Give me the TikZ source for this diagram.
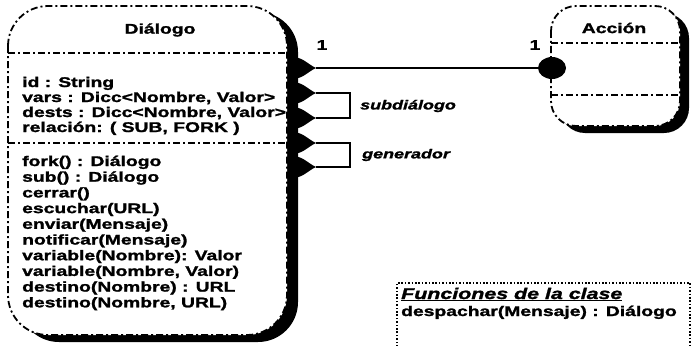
\documentclass[tikz,border=0pt]{standalone}
\usepackage{fontspec}
\newfontfamily\umlf{Liberation Sans}[FakeStretch=1.38, BoldFeatures={FakeBold=1.6}, BoldItalicFeatures={FakeBold=1.6}]
\usetikzlibrary{shapes.geometric}
\begin{document}
\begin{tikzpicture}[x=1pt,y=-1pt,
  dashdot/.style={line width=1.8pt, dash pattern=on 7pt off 3pt on 2pt off 3pt},
  txt/.style={font=\umlf\bfseries\fontsize{14}{15}\selectfont, anchor=base west, inner sep=0pt},
  ttl/.style={font=\umlf\bfseries\fontsize{14}{15}\selectfont, inner sep=0pt},
  rol/.style={font=\umlf\bfseries\itshape\fontsize{13}{14}\selectfont, anchor=west, inner sep=0pt},
  conn/.style={line width=2.4pt},
  ball/.style={ellipse, fill=black, minimum width=28pt, minimum height=22pt, inner sep=0pt},
  dotbox/.style={line width=1.6pt, dash pattern=on 1.6pt off 1.8pt}]
\useasboundingbox (0,0) rectangle (692,345);
% ---- Dialogo class box ----
\fill[black, rounded corners=40pt] (19,12) rectangle (298,342);
\fill[white, rounded corners=40pt] (8,6) rectangle (287,335);
\draw[dashdot, rounded corners=40pt] (8,6) rectangle (287,335);
\draw[dashdot] (8,53) -- (287,53);
\draw[dashdot] (8,143) -- (287,143);
\node[ttl] (tD) at (160,30) {Diálogo};
\foreach \t/\y [count=\i] in {{id : String}/87, {vars : Dicc<Nombre, Valor>}/102,
  {dests : Dicc<Nombre, Valor>}/117, {relación: ( SUB, FORK )}/132,
  {fork() : Diálogo}/166, {sub() : Diálogo}/181.7, {cerrar()}/197.4,
  {escuchar(URL)}/213.1, {enviar(Mensaje)}/228.8, {notificar(Mensaje)}/244.5,
  {variable(Nombre): Valor}/260.2, {variable(Nombre, Valor)}/275.9,
  {destino(Nombre) : URL}/291.6, {destino(Nombre, URL)}/307.3}
  \node[txt] (l\i) at (22,\y) {\t};
% ---- lobes on Dialogo ----
\foreach \y [count=\i] in {68,93,118,143,167} {
  \fill[black] (288,\y-11) .. controls (302,\y-12.5) and (307,\y-4) .. (316,\y)
     .. controls (307,\y+4) and (302,\y+12.5) .. (288,\y+11) -- cycle;
  \coordinate (t\i) at (316,\y);
}
% ---- Accion class box ----
\fill[black, rounded corners=25pt] (560,13) rectangle (689,133);
\fill[white, rounded corners=25pt] (551,6) rectangle (680,126);
\draw[dashdot, rounded corners=25pt] (551,6) rectangle (680,126);
\draw[dashdot] (551,43) -- (680,43);
\draw[dashdot] (551,95) -- (680,95);
\node[ttl] (tA) at (614,28) {Acción};
\node[ball] (ball) at (552,68) {};
% ---- connectors ----
\draw[conn] (t1) -- (ball);
\coordinate (bs) at (350,105);
\coordinate (bg) at (350,155);
\draw[conn, line width=2pt] (t2) -| (bs) |- (t3);
\draw[conn, line width=2pt] (t4) -| (bg) |- (t5);
\node[ttl] (m1) at (322,45) {1};
\node[ttl] (m2) at (535,45) {1};
\node[rol] (lsub) at (360,106) {subdiálogo};
\node[rol] (lgen) at (362,155) {generador};
% ---- Funciones de la clase ----
\draw[dotbox] (397,350) -- (397,283) -- (690,283) -- (690,350);
\node[txt, font=\umlf\bfseries\itshape\fontsize{15.5}{16}\selectfont] (fc) at (401,299) {\underline{Funciones de la clase}};
\node[txt] (fd) at (401,316) {despachar(Mensaje) : Diálogo};
\end{tikzpicture}
\end{document}
